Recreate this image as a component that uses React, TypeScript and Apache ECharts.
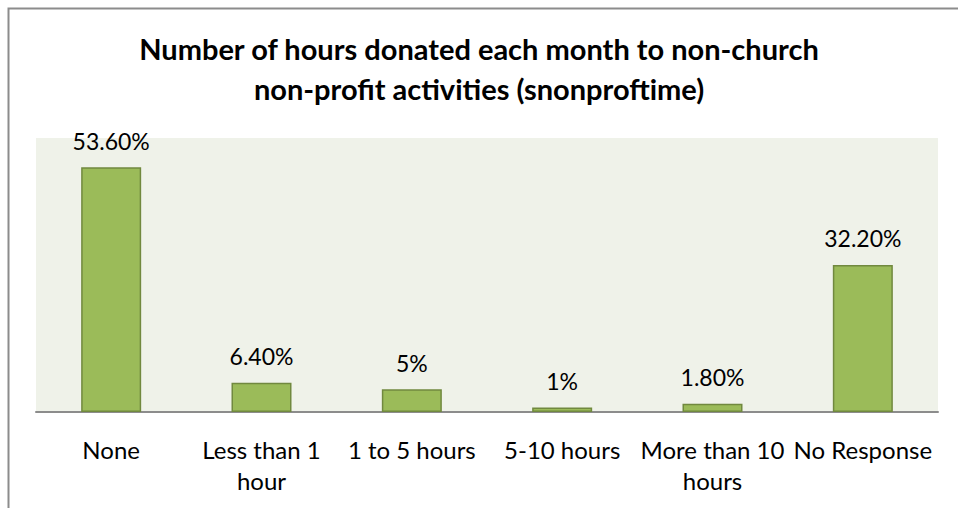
import React, { useEffect, useRef } from "react";
import * as echarts from "echarts";

const categories = [
  "None",
  "Less than 1\nhour",
  "1 to 5 hours",
  "5-10 hours",
  "More than 10\nhours",
  "No Response",
];
const values = [53.6, 6.4, 5, 1, 1.8, 32.2];
const valueLabels = ["53.60%", "6.40%", "5%", "1%", "1.80%", "32.20%"];
const titleText = "Number of hours donated each month to non-church\nnon-profit activities (snonproftime)";

export default function App() {
  const ref = useRef<HTMLDivElement>(null);
  useEffect(() => {
    const chart = echarts.init(ref.current!, null, { renderer: "svg" });
    const font = "Lato, 'Open Sans', sans-serif";
    chart.setOption({
      animation: false,
      backgroundColor: "#ffffff",
      title: {
        text: titleText,
        left: "center",
        top: 23,
        textStyle: {
          fontFamily: font,
          fontSize: 29,
          fontWeight: "bold",
          color: "#000000",
          lineHeight: 40,
        },
      },
      graphic: [
        {
          type: "rect",
          left: 6,
          top: 6,
          shape: { x: 0, y: 0, width: 970, height: 520 },
          style: { fill: "none", stroke: "#8c8c8c", lineWidth: 2 },
          silent: true,
          z: 100,
        },
      ],
      grid: {
        left: 36,
        right: 20,
        top: 138,
        bottom: 96,
        show: true,
        backgroundColor: "#eff2e9",
        borderWidth: 0,
      },
      xAxis: {
        type: "category",
        data: categories,
        axisLine: { show: true, lineStyle: { color: "#8c8c8c", width: 2 } },
        axisTick: { show: false },
        axisLabel: {
          fontFamily: font,
          fontSize: 24,
          color: "#000000",
          lineHeight: 31,
          margin: 22,
          interval: 0,
        },
      },
      yAxis: {
        type: "value",
        min: 0,
        max: 60,
        show: false,
        splitLine: { show: false },
      },
      series: [
        {
          type: "bar",
          data: values,
          barWidth: 60,
          itemStyle: { color: "#9bbb59", borderColor: "#71893f", borderWidth: 1.5 },
          label: {
            show: true,
            position: "top",
            distance: 15,
            fontFamily: font,
            fontSize: 23,
            color: "#000000",
            formatter: (p: any) => valueLabels[p.dataIndex],
          },
        },
      ],
    });
    return () => chart.dispose();
  }, []);
  return (
    <div
      ref={ref}
      style={{ position: "fixed", left: 0, top: 0, width: 958, height: 508 }}
    />
  );
}
